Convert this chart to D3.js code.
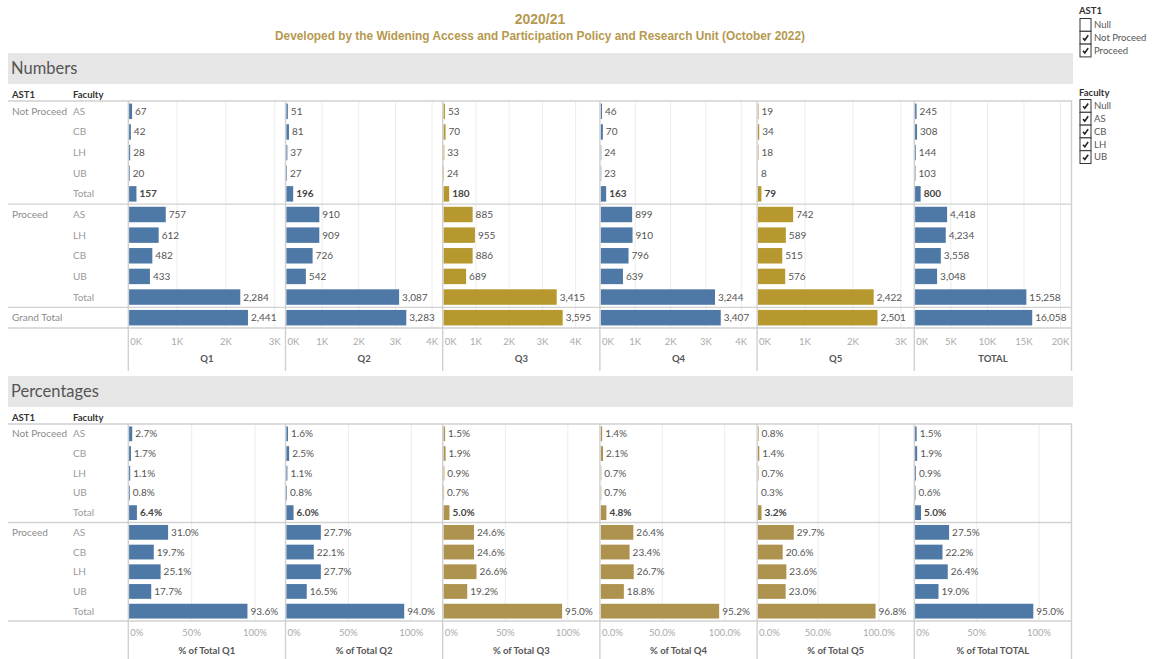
<!DOCTYPE html>
<html><head><meta charset="utf-8">
<script src="https://cdn.jsdelivr.net/npm/d3@7"></script>
<style>
html,body{margin:0;padding:0;background:#fff;}
svg{display:block;}
text{font-family:Lato,"Open Sans",sans-serif;}
</style></head>
<body>
<svg id="chart" width="1152" height="659"></svg>
<script>
// ---------- DATA ----------
const titleText = "2020/21";
const subtitleText = "Developed by the Widening Access and Participation Policy and Research Unit (October 2022)";
const quarters = ["Q1","Q2","Q3","Q4","Q5","TOTAL"];
const pctTitles = ["% of Total Q1","% of Total Q2","% of Total Q3","% of Total Q4","% of Total Q5","% of Total TOTAL"];
const groups = ["Not Proceed","Proceed"];
const npFaculties = ["AS","CB","LH","UB","Total"];
const pNumFaculties = ["AS","LH","CB","UB","Total"];
const pPctFaculties = ["AS","CB","LH","UB","Total"];

// Numbers, one inner array per quarter (Q1..Q5, TOTAL)
const numNotProceed = [
  [67,42,28,20,157],
  [51,81,37,27,196],
  [53,70,33,24,180],
  [46,70,24,23,163],
  [19,34,18,8,79],
  [245,308,144,103,800]
];
const numProceed = [
  [757,612,482,433,2284],
  [910,909,726,542,3087],
  [885,955,886,689,3415],
  [899,910,796,639,3244],
  [742,589,515,576,2422],
  [4418,4234,3558,3048,15258]
];
const numGrandTotal = [2441,3283,3595,3407,2501,16058];
const numAxisMax = [3220,4290,4730,4450,3280,21500];
const numTicks = [
  [0,1000,2000,3000],
  [0,1000,2000,3000,4000],
  [0,1000,2000,3000,4000],
  [0,1000,2000,3000,4000],
  [0,1000,2000,3000],
  [0,5000,10000,15000,20000]
];

// Percentages
const pctNotProceed = [
  [2.7,1.7,1.1,0.8,6.4],
  [1.6,2.5,1.1,0.8,6.0],
  [1.5,1.9,0.9,0.7,5.0],
  [1.4,2.1,0.7,0.7,4.8],
  [0.8,1.4,0.7,0.3,3.2],
  [1.5,1.9,0.9,0.6,5.0]
];
const pctProceed = [
  [31.0,19.7,25.1,17.7,93.6],
  [27.7,22.1,27.7,16.5,94.0],
  [24.6,24.6,26.6,19.2,95.0],
  [26.4,23.4,26.7,18.8,95.2],
  [29.7,20.6,23.6,23.0,96.8],
  [27.5,22.2,26.4,19.0,95.0]
];
const pctAxisMax = [124,125,125.6,126,129,126];
const pctTicks = [0,50,100];
const pctTickDecimals = [0,0,0,1,1,0];

// legend
const legendAst = ["Null","Not Proceed","Proceed"];
const legendAstChecked = [false,true,true];
const legendFaculty = ["Null","AS","CB","LH","UB"];

// ---------- STYLE ----------
const BLUE = "#4e79a7";
const GOLD_NUM = "#b6982f";
const GOLD_PCT = "#ae934f";
const numColors = [BLUE,BLUE,GOLD_NUM,BLUE,GOLD_NUM,BLUE];
const pctColors = [BLUE,BLUE,GOLD_PCT,GOLD_PCT,GOLD_PCT,BLUE];

const svg = d3.select("#chart");
const panelLeft = 128.3, panelW = 157.2, leftEdge = 8, rightEdge = 1072;

// Title
svg.append("text").attr("x",540).attr("y",24).attr("text-anchor","middle")
  .style("font-family","'Liberation Sans',Arial,sans-serif").style("font-weight","bold")
  .style("font-size","14px").attr("fill","#b5994f").text(titleText);
svg.append("text").attr("x",540).attr("y",39.5).attr("text-anchor","middle")
  .style("font-family","'Liberation Sans',Arial,sans-serif").style("font-weight","bold")
  .style("font-size","11.85px").attr("fill","#b5994f").text(subtitleText);

function section(o){
  const g = svg.append("g");
  // header band
  g.append("rect").attr("x",leftEdge).attr("y",o.bandTop).attr("width",rightEdge-leftEdge+1).attr("height",o.bandH).attr("fill","#e6e6e6");
  g.append("text").attr("x",11).attr("y",o.bandTop+o.bandH/2).attr("dy","0.36em")
    .style("font-size","16.5px").attr("fill","#555").text(o.name);
  // column headers
  g.append("text").attr("x",12).attr("y",o.headY).attr("dy","0.35em").style("font-size","9.5px").style("font-weight","bold").attr("fill","#333").text("AST1");
  g.append("text").attr("x",73).attr("y",o.headY).attr("dy","0.35em").style("font-size","9.5px").style("font-weight","bold").attr("fill","#333").text("Faculty");

  const keys = o.rows.map(r=>r.key);
  const y = d3.scaleBand().domain(keys).range([o.top,o.bottom]).paddingInner(0.25).paddingOuter(0.125);
  const step = y.step();

  // panels
  quarters.forEach((q,i)=>{
    const x0 = panelLeft + i*panelW;
    const x = d3.scaleLinear().domain([0,o.axisMax[i]]).range([x0, x0+panelW]);
    const ticks = o.ticks(i);
    // gridlines
    ticks.filter(t=>t>0).forEach(t=>{
      g.append("line").attr("x1",x(t)).attr("x2",x(t)).attr("y1",o.top).attr("y2",o.bottom)
        .attr("stroke","#ececec").attr("stroke-width",1);
    });
    // bars
    o.rows.forEach(r=>{
      const v = o.value(r,i);
      g.append("rect").attr("x",x(0)+0.8).attr("y",y(r.key)).attr("width",Math.max(0,x(v)-x(0)-0.3))
        .attr("height",y.bandwidth()).attr("fill",o.colors[i]);
      g.append("text").attr("x",x(v)+3.5).attr("y",y(r.key)+y.bandwidth()/2).attr("dy","0.35em")
        .style("font-size","10px").style("font-weight",r.bold?"bold":"normal")
        .attr("fill",r.bold?"#444":"#555").text(o.fmt(v));
    });
    // tick labels
    ticks.forEach(t=>{
      const tx = g.append("text").attr("x",x(t)).attr("y",o.tickY).attr("dy","0.35em")
        .attr("text-anchor","middle").style("font-size","9.5px").attr("fill","#aaa").text(o.tickFmt(t,i));
      const w = tx.node().getComputedTextLength();
      let cx = x(t);
      if (cx - w/2 < x0+2) cx = x0+2+w/2;
      if (cx + w/2 > x0+panelW-1) cx = x0+panelW-1-w/2;
      tx.attr("x",cx);
    });
    g.append("text").attr("x",x0+panelW/2).attr("y",o.titleY).attr("dy","0.35em").attr("text-anchor","middle")
      .style("font-size","9.5px").style("font-weight","bold").attr("fill","#555").text(o.axisTitle(i));
  });

  // row labels
  o.rows.forEach(r=>{
    const cy = y(r.key)+y.bandwidth()/2;
    if (r.groupLabel) g.append("text").attr("x",12).attr("y",cy).attr("dy","0.35em").style("font-size","10px").attr("fill","#8c8c8c").text(r.groupLabel);
    if (r.fac) g.append("text").attr("x",73).attr("y",cy).attr("dy","0.35em").style("font-size","10px").attr("fill","#9a9a9a").text(r.fac);
  });

  // horizontal lines
  g.append("line").attr("x1",leftEdge).attr("x2",rightEdge).attr("y1",o.top).attr("y2",o.top).attr("stroke","#dcdcdc").attr("stroke-width",2);
  o.seps.forEach(k=>{
    const yy = y(k) - step*y.paddingInner()/2;
    g.append("line").attr("x1",leftEdge).attr("x2",rightEdge).attr("y1",yy).attr("y2",yy).attr("stroke","#d2d2d2").attr("stroke-width",1.3);
  });
  g.append("line").attr("x1",leftEdge).attr("x2",rightEdge).attr("y1",o.bottom).attr("y2",o.bottom).attr("stroke","#d2d2d2").attr("stroke-width",1.3);
  // vertical panel lines
  for (let i=0;i<=quarters.length;i++){
    const xx = panelLeft + i*panelW;
    g.append("line").attr("x1",xx).attr("x2",xx).attr("y1",o.top).attr("y2",o.vEnd).attr("stroke","#d0d0d0").attr("stroke-width",1.4);
  }
}

// Numbers section rows
const numRows = [];
npFaculties.forEach((f,j)=>numRows.push({key:"NP|"+f,fac:f,groupLabel:j===0?groups[0]:null,src:"np",idx:j,bold:f==="Total"}));
pNumFaculties.forEach((f,j)=>numRows.push({key:"P|"+f,fac:f,groupLabel:j===0?groups[1]:null,src:"p",idx:j,bold:false}));
numRows.push({key:"GT",fac:null,groupLabel:"Grand Total",src:"gt",idx:0,bold:false});

section({
  name:"Numbers", bandTop:53, bandH:31, headY:95,
  top:101, bottom:328, tickY:341.5, titleY:358.5, vEnd:371,
  rows:numRows, seps:["P|AS","GT"], colors:numColors, axisMax:numAxisMax,
  ticks:i=>numTicks[i],
  value:(r,i)=> r.src==="np"?numNotProceed[i][r.idx]: r.src==="p"?numProceed[i][r.idx]: numGrandTotal[i],
  fmt:d3.format(","),
  tickFmt:(t)=> (t/1000)+"K",
  axisTitle:i=>quarters[i]
});

const pctRows = [];
npFaculties.forEach((f,j)=>pctRows.push({key:"NP|"+f,fac:f,groupLabel:j===0?groups[0]:null,src:"np",idx:j,bold:f==="Total"}));
pPctFaculties.forEach((f,j)=>pctRows.push({key:"P|"+f,fac:f,groupLabel:j===0?groups[1]:null,src:"p",idx:j,bold:false}));

section({
  name:"Percentages", bandTop:376, bandH:31, headY:417.5,
  top:424, bottom:621, tickY:632.5, titleY:650.5, vEnd:659,
  rows:pctRows, seps:["P|AS"], colors:pctColors, axisMax:pctAxisMax,
  ticks:()=>pctTicks,
  value:(r,i)=> r.src==="np"?pctNotProceed[i][r.idx]:pctProceed[i][r.idx],
  fmt:v=>v.toFixed(1)+"%",
  tickFmt:(t,i)=> t.toFixed(pctTickDecimals[i])+"%",
  axisTitle:i=>pctTitles[i]
});

// ---------- LEGENDS ----------
function legend(title, items, checked, titleY, firstY){
  const g = svg.append("g");
  g.append("text").attr("x",1079).attr("y",titleY).attr("dy","0.35em").style("font-size","9.5px").style("font-weight","bold").attr("fill","#333").text(title);
  const ly = d3.scaleBand().domain(items).range([firstY, firstY+items.length*12.8]);
  items.forEach((it,k)=>{
    const yy = ly(it);
    g.append("rect").attr("x",1080).attr("y",yy).attr("width",11).attr("height",ly.bandwidth())
      .attr("fill","#fff").attr("stroke","#333").attr("stroke-width",1);
    if (checked[k]) {
      const cx=1080, cy=yy;
      g.append("path").attr("d",`M${cx+3},${cy+6.8} L${cx+4.8},${cy+8.8} L${cx+8.2},${cy+4}`)
        .attr("fill","none").attr("stroke","#222").attr("stroke-width",1.6);
    }
    g.append("text").attr("x",1094).attr("y",yy+ly.bandwidth()/2).attr("dy","0.35em").style("font-size","9.5px").attr("fill","#555").text(it);
  });
}
legend("AST1", legendAst, legendAstChecked, 11, 18.5);
legend("Faculty", legendFaculty, legendFaculty.map(()=>true), 93, 99.5);
</script>
</body></html>
